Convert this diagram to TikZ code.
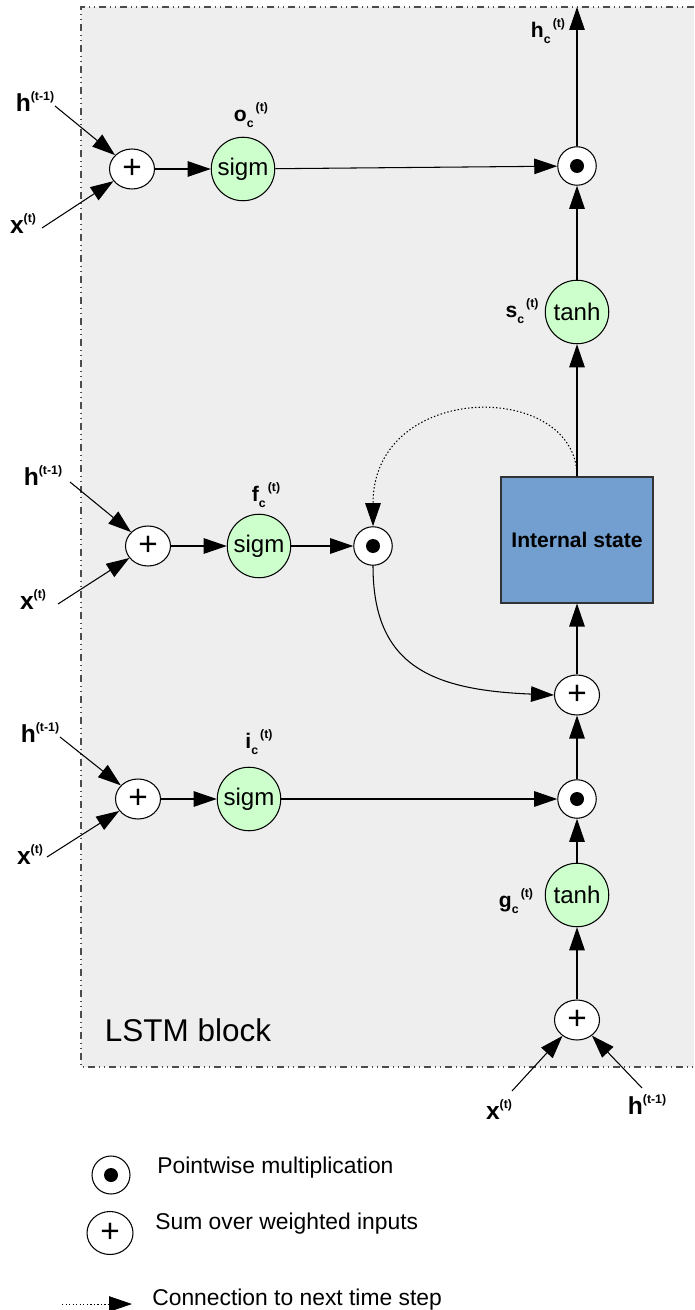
\documentclass[tikz,border=0pt]{standalone}
\usepackage{fontspec}
\setmainfont{Liberation Sans}
\usetikzlibrary{arrows.meta,shapes.geometric}
\definecolor{bgray}{HTML}{EEEEEE}
\definecolor{actgreen}{HTML}{CCFFCC}
\definecolor{boxblue}{HTML}{729FCF}
\newcommand\gatelab[2]{\textbf{#1}\raisebox{-0.5ex}{\fontsize{7}{7}\selectfont\bfseries #2}\raisebox{0.9ex}{\fontsize{7}{7}\selectfont\bfseries\,(t)}}
\newcommand\inlab[2]{\textbf{#1}\raisebox{0.85ex}{\fontsize{7}{7}\selectfont\bfseries(#2)}}
\begin{document}
\begin{tikzpicture}[x=0.02cm,y=-0.02cm,
  sumnode/.style={ellipse,draw,fill=white,minimum width=0.9cm,minimum height=0.8cm,inner sep=0pt,line width=0.6pt,font=\fontsize{19}{19}\selectfont},
  prodnode/.style={circle,draw,fill=white,minimum size=0.77cm,inner sep=0pt,line width=0.6pt,
     path picture={\fill[black] (path picture bounding box.center) circle (0.14cm);}},
  actnode/.style={circle,draw,fill=actgreen,minimum size=1.27cm,inner sep=0pt,line width=0.6pt,font=\fontsize{13.7}{14}\selectfont},
  arr/.style={-{Triangle[length=0.46cm,width=0.31cm]},line width=0.6pt},
  dotarr/.style={-{Triangle[length=0.46cm,width=0.31cm]},line width=0.6pt,dash pattern=on 0.8pt off 1.2pt},
  inputlab/.style={inner sep=0pt,font=\fontsize{14}{14}\selectfont},
  gatelabel/.style={inner sep=0pt,font=\fontsize{12}{12}\selectfont},
  legtext/.style={anchor=west,inner sep=0pt,font=\fontsize{13}{14}\selectfont},
  border/.style={draw=black!70,line width=0.6pt,dash pattern=on 0.14cm off 0.08cm on 0.02cm off 0.08cm on 0.02cm off 0.08cm}
]
\useasboundingbox (0,0) rectangle (694,1310);
% background block
\fill[bgray] (81,7) rectangle (694,1067);
\draw[border] (694,7) -- (81,7) -- (81,1067) -- (694,1067);
\node[inner sep=0pt,font=\fontsize{17.9}{18}\selectfont] (lstm) at (188,1030) {LSTM block};

% ---------- output gate row ----------
\node[sumnode] (plus1) at (132,169) {+};
\node[actnode] (sig1) at (243,169) {sigm};
\node[prodnode] (dot1) at (577,166) {};
\node[gatelabel] (lo) at (251,115) {\gatelab{o}{c}};
\node[inputlab] (h1) at (35,102) {\inlab{h}{t-1}};
\node[inputlab] (x1) at (23,224) {\inlab{x}{t}};
\coordinate (h1s) at (55,106);
\coordinate (x1s) at (42,228);
\draw[arr] (h1s) -- (plus1);
\draw[arr] (x1s) -- (plus1);
\draw[arr] (plus1) -- (sig1);
\draw[arr] (sig1) -- (dot1);
\coordinate (top) at (577,7);
\draw[arr] (dot1) -- (top);
\node[gatelabel] (lh) at (548,31) {\gatelab{h}{c}};

% ---------- state output ----------
\node[actnode] (tanhs) at (577,312) {tanh};
\node[gatelabel] (ls) at (522,311) {\gatelab{s}{c}};
\draw[arr] (tanhs) -- (dot1);
\node[draw=black!80,fill=boxblue,minimum width=3.04cm,minimum height=2.52cm,inner sep=0pt,line width=0.6pt,font=\fontsize{12}{12}\selectfont\bfseries] (state) at (577,540) {Internal state};
\draw[arr] (state) -- (tanhs);

% ---------- forget gate row ----------
\node[sumnode] (plus2) at (148,546) {+};
\node[actnode] (sig2) at (259,546) {sigm};
\node[prodnode] (dot2) at (373,546) {};
\node[gatelabel] (lf) at (266,495) {\gatelab{f}{c}};
\node[inputlab] (h2) at (43,476) {\inlab{h}{t-1}};
\node[inputlab] (x2) at (33,600) {\inlab{x}{t}};
\coordinate (h2s) at (70,482);
\coordinate (x2s) at (58,604);
\draw[arr] (h2s) -- (plus2);
\draw[arr] (x2s) -- (plus2);
\draw[arr] (plus2) -- (sig2);
\draw[arr] (sig2) -- (dot2);
\draw[dotarr] (state.north) .. controls (577,380) and (373,380) .. (dot2.north);

% ---------- sum into state ----------
\node[sumnode] (plusm) at (577,695) {+};
\draw[arr] (dot2.south) .. controls (373,665) and (430,690) .. (plusm.west);
\draw[arr] (plusm) -- (state);

% ---------- input gate row ----------
\node[sumnode] (plus3) at (138,799) {+};
\node[actnode] (sig3) at (249,799) {sigm};
\node[prodnode] (dot3) at (577,799) {};
\node[gatelabel] (li) at (259,742) {\gatelab{i}{c}};
\node[inputlab] (h3) at (40,733) {\inlab{h}{t-1}};
\node[inputlab] (x3) at (30,855) {\inlab{x}{t}};
\coordinate (h3s) at (60,737);
\coordinate (x3s) at (47,857);
\draw[arr] (h3s) -- (plus3);
\draw[arr] (x3s) -- (plus3);
\draw[arr] (plus3) -- (sig3);
\draw[arr] (sig3) -- (dot3);
\draw[arr] (dot3) -- (plusm);

% ---------- cell input ----------
\node[actnode] (tanhg) at (577,895) {tanh};
\node[gatelabel] (lg) at (516,901) {\gatelab{g}{c}};
\draw[arr] (tanhg) -- (dot3);
\node[sumnode] (plusb) at (577,1020) {+};
\draw[arr] (plusb) -- (tanhg);
\node[inputlab] (xb) at (499,1110) {\inlab{x}{t}};
\node[inputlab] (hb) at (647,1105) {\inlab{h}{t-1}};
\coordinate (xbs) at (512,1091);
\coordinate (hbs) at (642,1088);
\draw[arr] (xbs) -- (plusb);
\draw[arr] (hbs) -- (plusb);

% ---------- legend ----------
\node[prodnode,minimum size=0.76cm] (legdot) at (111,1175) {};
\node[legtext] (legdottext) at (157,1168) {Pointwise multiplication};
\node[sumnode,minimum width=0.92cm,minimum height=0.86cm] (legplus) at (110,1233) {+};
\node[legtext] (legplustext) at (155,1224) {Sum over weighted inputs};
\coordinate (legs) at (62,1304);
\coordinate (lege) at (132,1304);
\draw[dotarr,line width=0.5pt] (legs) -- (lege);
\node[legtext] (legarrtext) at (152,1300) {Connection to next time step};
\end{tikzpicture}
\end{document}
